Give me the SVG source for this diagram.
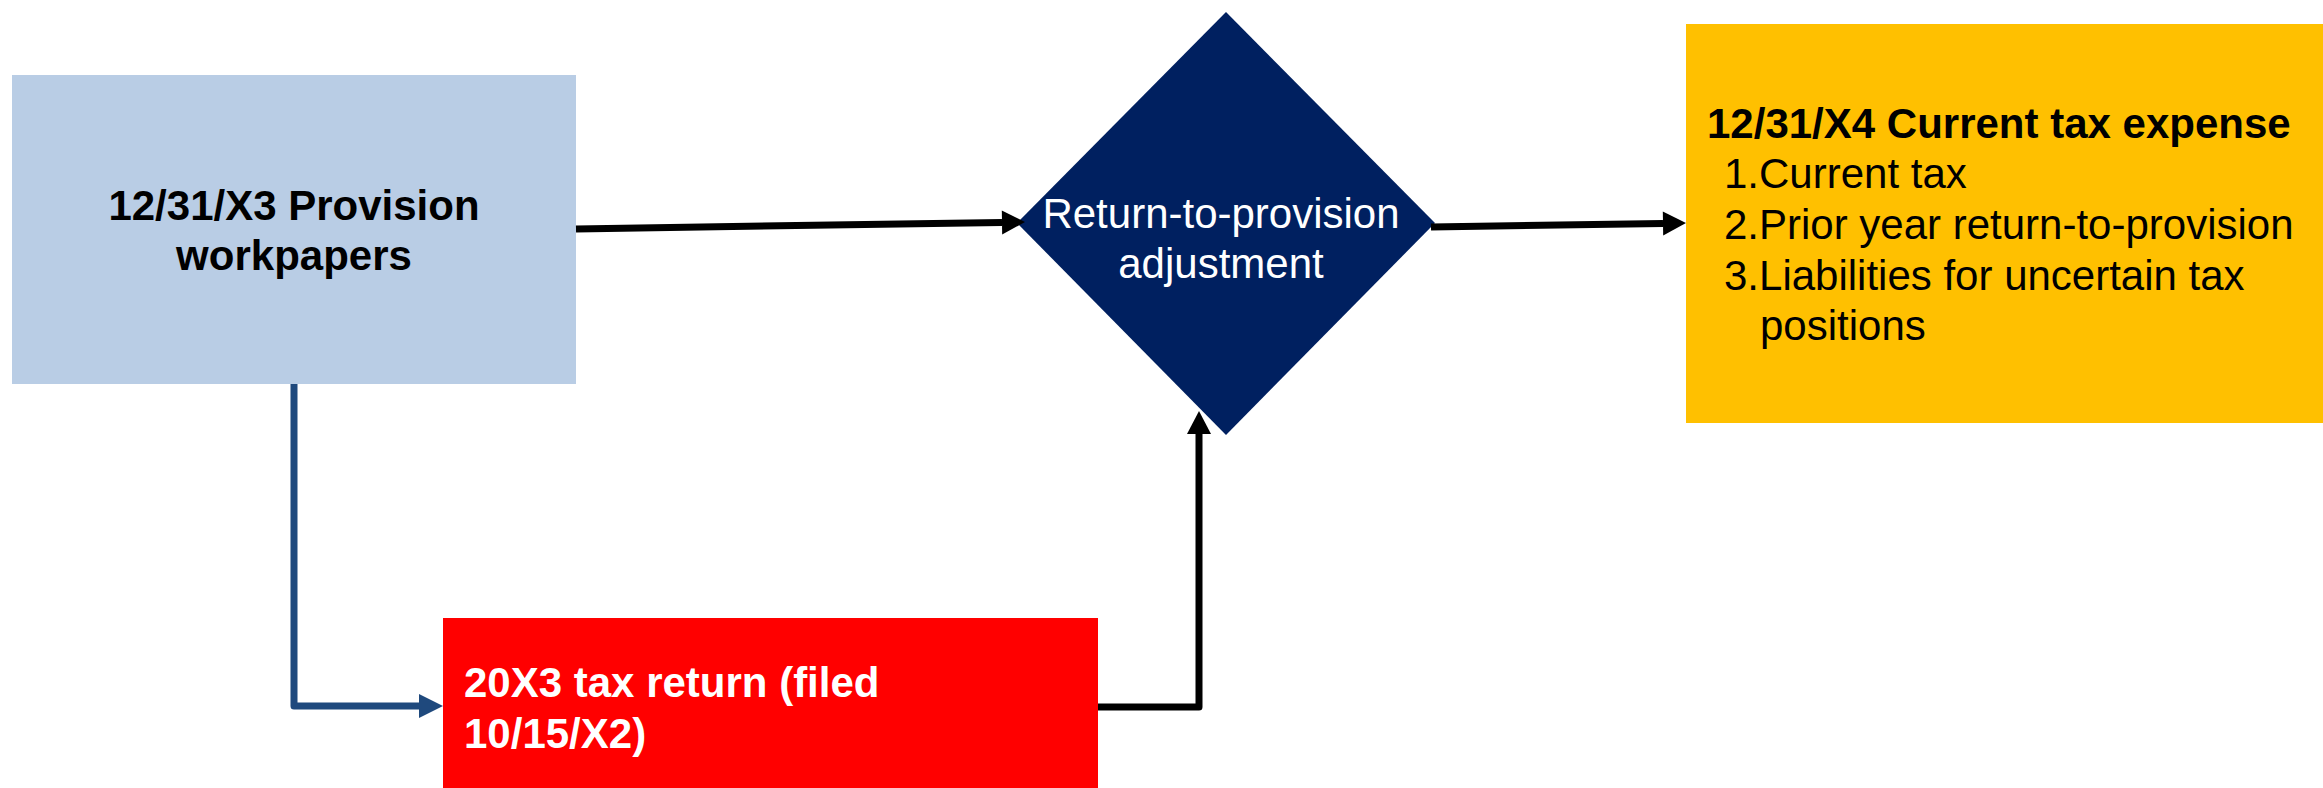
<svg xmlns="http://www.w3.org/2000/svg" width="2323" height="788" viewBox="0 0 2323 788">
<style>
text{font-family:"Liberation Sans",Arial,sans-serif;font-size:42px}
.b{font-weight:bold}
.conn{fill:none;stroke-width:7;stroke-linejoin:round}
</style>
<defs>
<marker id="ahK" markerUnits="userSpaceOnUse" markerWidth="24" markerHeight="24" refX="0" refY="12" orient="auto" overflow="visible">
<path d="M0,0 L23,12 L0,24 z" fill="#000"/>
</marker>
<marker id="ahB" markerUnits="userSpaceOnUse" markerWidth="24" markerHeight="24" refX="0" refY="12" orient="auto" overflow="visible">
<path d="M0,0 L24,12 L0,24 z" fill="#1F497D"/>
</marker>
</defs>
<rect width="2323" height="788" fill="#fff"/>
<g id="provision">
<rect x="12" y="75" width="564" height="309" fill="#B9CDE5"/>
<text class="b" x="294" y="220" text-anchor="middle">12/31/X3 Provision</text>
<text class="b" x="294" y="270" text-anchor="middle">workpapers</text>
</g>
<g id="rtp">
<path d="M1226,12 L1435,223 L1226,435 L1017,223 z" fill="#002060"/>
<text x="1221" y="228" text-anchor="middle" fill="#fff">Return-to-provision</text>
<text x="1221" y="278" text-anchor="middle" fill="#fff">adjustment</text>
</g>
<g id="expense">
<rect x="1686" y="24" width="637" height="399" fill="#FFC000"/>
<text class="b" x="1707" y="138">12/31/X4 Current tax expense</text>
<text x="1724" y="188">1.Current tax</text>
<text x="1724" y="239">2.Prior year return-to-provision</text>
<text x="1724" y="290">3.Liabilities for uncertain tax</text>
<text x="1760" y="340">positions</text>
</g>
<g id="taxreturn">
<rect x="443" y="618" width="655" height="170" fill="#FF0000"/>
<text class="b" x="464" y="697" fill="#fff">20X3 tax return (filed</text>
<text class="b" x="464" y="748" fill="#fff">10/15/X2)</text>
</g>
<g id="connectors">
<path class="conn" d="M576,229 L1002,222.4" stroke="#000" marker-end="url(#ahK)"/>
<path class="conn" d="M1431,227 L1663,223.4" stroke="#000" marker-end="url(#ahK)"/>
<path class="conn" d="M294,384 L294,706 L419,706" stroke="#1F497D" marker-end="url(#ahB)"/>
<path class="conn" d="M1098,707 L1199,707 L1199,434" stroke="#000" marker-end="url(#ahK)"/>
</g>
</svg>
